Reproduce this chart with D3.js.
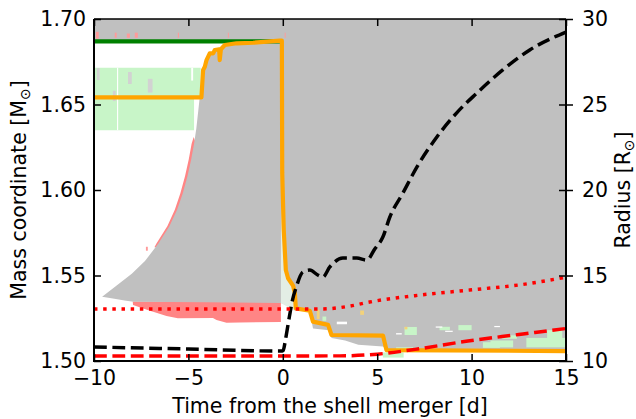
<!DOCTYPE html>
<html>
<head>
<meta charset="utf-8">
<script src="https://cdn.jsdelivr.net/npm/d3@7"></script>
<style>
body { margin: 0; background: #fff; }
svg { font-family: "DejaVu Sans", sans-serif; display: block; }
</style>
</head>
<body>
<div id="chart"></div>
<script>
// sets frame up
const FRAME_WIDTH = 636;
const FRAME_HEIGHT = 419;
const MARGINS = {left: 94, right: 70, top: 19, bottom: 58};
const VIS_WIDTH = FRAME_WIDTH - MARGINS.left - MARGINS.right;
const VIS_HEIGHT = FRAME_HEIGHT - MARGINS.top - MARGINS.bottom;

// tick values
const X_TICKS = [-10, -5, 0, 5, 10, 15];
const MASS_TICKS = [1.50, 1.55, 1.60, 1.65, 1.70];
const RADIUS_TICKS = [10, 15, 20, 25, 30];

// convective zone (grey), [time, mass]
const convUpper = [[-9.57,1.5376],[-8.8,1.5442],[-8.0,1.551],[-7.3,1.5585],[-6.6,1.5685],[-6.0,1.579],
  [-5.6,1.5885],[-5.3,1.598],[-5.05,1.608],[-4.85,1.618],[-4.7,1.627],[-4.58,1.636],[-4.48,1.646],
  [-4.4,1.6542],[-4.22,1.6702],[-4.13,1.6721],[-4.04,1.676],[-3.87,1.6799],
  [-3.69,1.6799],[-3.6,1.6819],[-3.07,1.6848],[-2.45,1.6858],[-1.57,1.6861],[-0.16,1.6873],[-0.05,1.6873],
  [-0.05,1.70],[15,1.70]];
const convLower = [[-9.57,1.5376],[-9.0,1.5366],[-8.3,1.5352],[-7.9,1.5347],[-4,1.5343],[-0.1,1.5339],
  [0.69,1.5305],[1.43,1.529],[1.6,1.519],[2.45,1.518],[2.58,1.5135],[3.3,1.512],[4.0,1.5095],[5.3,1.5085],
  [5.49,1.5068],[15,1.5068]];
// thin convective layer at the top
const convTop = [[-10,1.6866],[0,1.6866],[0,1.70],[-10,1.70]];

// pink regions
const pinkBottom = [[-7.95,1.5348],[-0.1,1.5345],[-0.1,1.5228],[-2.3,1.5225],[-2.98,1.5224],[-3.51,1.524],
  [-3.7,1.5252],[-5.56,1.525],[-6.16,1.5263],[-7.2,1.5300],[-7.93,1.5327]];
const pinkFringe = [[-6.8,1.5665],[-6.7,1.5685],[-6.11,1.579],[-5.72,1.5885],[-5.43,1.598],[-5.18,1.608],
  [-4.98,1.618],[-4.83,1.627],[-4.72,1.631],[-4.6,1.627],[-5.0,1.600],[-6.0,1.575],[-6.6,1.5665]];
// [t0, t1, m0, m1]
const pinkSpecks = [[-9.9,-9.75,1.6885,1.6925],[-8.9,-8.8,1.689,1.692],[-8.26,-8.1,1.689,1.6915],
  [-7.84,-7.68,1.689,1.692],[-5.56,-5.5,1.689,1.692],[-2.91,-2.86,1.689,1.692],[0.1,0.15,1.689,1.692],
  [-7.25,-7.15,1.5645,1.5668]];

// semiconvective zone (light green)
const greenZone = [[-10,1.635],[-4.7,1.635],[-4.7,1.6542],[-4.35,1.6542],[-4.35,1.6715],[-10,1.6715]];
const greenPatches = [[6.45,7.1,1.5152,1.5199],[8.3,8.85,1.518,1.520],[9.3,10.0,1.518,1.521],
  [11.6,12.4,1.513,1.515],[12.9,15,1.508,1.5135],[10.6,11.5,1.5077,1.511],[6.0,6.9,1.5053,1.508],
  [5.3,6.4,1.502,1.505],[14.0,14.8,1.5105,1.518],[11.0,12.2,1.508,1.512],[2.1,2.3,1.5235,1.526]];
const whiteSpecks = [[-8.78,-8.72,1.635,1.6715],[-4.85,-4.75,1.664,1.6715],[2.86,3.4,1.5215,1.523],
  [8.1,8.45,1.5195,1.5202],[8.6,9.0,1.517,1.5177],[11.2,11.5,1.5198,1.5205],[6.0,6.3,1.5155,1.5163]];
const greySpecks = [[-9.85,-9.7,1.6643,1.6713],[-9.0,-8.85,1.652,1.658],[-7.15,-6.9,1.657,1.665],[-8.2,-8.0,1.662,1.669]];
const yellowSpecks = [[1.8,1.95,1.5245,1.530],[4.1,4.3,1.527,1.5295],[6.45,6.6,1.5185,1.520],[14.3,14.6,1.5175,1.5185]];
const paleStrip = [[-0.1,1.5339],[-0.1,1.575],[-0.03,1.60],[0.05,1.5766],[0.16,1.5532],[0.28,1.5484],
  [0.55,1.5439],[0.64,1.5396],[0.69,1.5308],[0.69,1.529]];

// lines, [time, mass]
const heBoundary = [[-10,1.6869],[-0.1,1.6869]];
const coreMass = [[-10,1.6542],[-4.31,1.6542],[-4.22,1.6702],[-4.13,1.6721],[-4.04,1.676],[-3.87,1.6799],
  [-3.69,1.6799],[-3.6,1.6819],[-3.37,1.6823],[-3.34,1.676],[-3.28,1.6823],[-3.07,1.6848],[-2.45,1.6858],
  [-1.57,1.6861],[-0.16,1.6873],[-0.05,1.6873],[-0.03,1.61],[-0.02,1.6058],[0.05,1.5766],[0.16,1.5532],
  [0.28,1.5484],[0.55,1.5439],[0.64,1.5396],[0.69,1.5308],[1.43,1.5294],[1.6,1.523],[2.4,1.5211],
  [2.58,1.5152],[5.31,1.5148],[5.49,1.5064],[15,1.5058]];
// radii, [time, radius]
const stellarRadius = [[-10,10.82],[-5,10.7],[-0.1,10.58],[0.02,10.62],[0.15,11.3],[0.35,12.6],[0.5,13.5],
  [0.72,14.35],[1.06,15.2],[1.43,15.32],[1.85,15.03],[2.12,14.91],[2.49,15.5],[3.18,16.02],[3.92,16.02],
  [4.45,15.9],[4.87,16.55],[5.3,17.25],[5.67,18.42],[6.36,19.82],[7.1,21.34],[8.16,23.1],[9.2,24.5],
  [10.28,25.67],[11.65,27.02],[13.08,28.19],[15,29.24]];
const dottedRadius = [[-10,13.04],[2,13.04],[3.5,13.2],[4.6,13.45],[7.3,13.86],[9.9,14.15],[12.6,14.46],[15,14.9]];
const dashedRadius = [[-10,10.29],[3,10.3],[5,10.4],[7,10.68],[9.8,11.17],[12.5,11.55],[15,11.9]];

// scales
const X_SCALE = d3.scaleLinear().domain([-10, 15]).range([MARGINS.left, MARGINS.left + VIS_WIDTH]);
const Y_MASS = d3.scaleLinear().domain([1.5, 1.7]).range([MARGINS.top + VIS_HEIGHT, MARGINS.top]);
const Y_RAD = d3.scaleLinear().domain([10, 30]).range([MARGINS.top + VIS_HEIGHT, MARGINS.top]);

const FRAME = d3.select("#chart").append("svg")
  .attr("width", FRAME_WIDTH)
  .attr("height", FRAME_HEIGHT);

FRAME.append("defs").append("clipPath").attr("id", "clip")
  .append("rect")
    .attr("x", MARGINS.left).attr("y", MARGINS.top)
    .attr("width", VIS_WIDTH).attr("height", VIS_HEIGHT);

const PLOT = FRAME.append("g").attr("clip-path", "url(#clip)");

const massPoly = d3.line().x(d => X_SCALE(d[0])).y(d => Y_MASS(d[1]));

function polygon(pts, color) {
  PLOT.append("path").attr("d", massPoly(pts) + "Z").attr("fill", color).attr("stroke", "none");
}
function specks(list, color) {
  PLOT.selectAll(null).data(list).enter().append("rect")
    .attr("x", d => X_SCALE(d[0]))
    .attr("y", d => Y_MASS(d[3]))
    .attr("width", d => X_SCALE(d[1]) - X_SCALE(d[0]))
    .attr("height", d => Y_MASS(d[2]) - Y_MASS(d[3]))
    .attr("fill", color);
}

// zones
polygon(greenZone, "#c8f5c8");
specks(whiteSpecks.slice(0, 2), "#ffffff");
specks(greySpecks, "#d2d2d2");
polygon(pinkFringe, "#ff8585");
polygon(pinkBottom, "#ff8585");
polygon(convUpper.concat(convLower.slice().reverse()), "#c0c0c0");
polygon(convTop, "#c0c0c0");
specks(pinkSpecks, "#ff9a9a");
polygon(paleStrip, "#e3eee5");
specks(greenPatches, "#c8f5c8");
specks(whiteSpecks.slice(2), "#ffffff");
specks(yellowSpecks, "#f3d27a");

// mass lines
PLOT.append("path").attr("d", massPoly(heBoundary))
  .attr("fill", "none").attr("stroke", "#008000").attr("stroke-width", 4.2);
PLOT.append("path").attr("d", massPoly(coreMass))
  .attr("fill", "none").attr("stroke", "#ffa500").attr("stroke-width", 4.2)
  .attr("stroke-linejoin", "round");

// radius lines (twin axis)
const radLine = d3.line().x(d => X_SCALE(d[0])).y(d => Y_RAD(d[1])).curve(d3.curveMonotoneX);
PLOT.append("path").attr("d", radLine(stellarRadius))
  .attr("fill", "none").attr("stroke", "#000").attr("stroke-width", 3.47)
  .attr("stroke-dasharray", "12.8,5.6");
PLOT.append("path").attr("d", radLine(dottedRadius))
  .attr("fill", "none").attr("stroke", "#ff0000").attr("stroke-width", 3.47)
  .attr("stroke-dasharray", "3.47,5.7");
PLOT.append("path").attr("d", radLine(dashedRadius))
  .attr("fill", "none").attr("stroke", "#ff0000").attr("stroke-width", 3.47)
  .attr("stroke-dasharray", "12.8,5.6");

// axes
function styleAxis(g) {
  g.attr("font-family", "DejaVu Sans, sans-serif").attr("font-size", 20.5);
  g.select(".domain").remove();
  g.selectAll(".tick line").attr("stroke", "#000").attr("stroke-width", 1.5);
  g.selectAll(".tick text").attr("fill", "#000");
}

FRAME.append("g")
  .attr("transform", "translate(0," + (MARGINS.top + VIS_HEIGHT) + ")")
  .call(d3.axisBottom(X_SCALE).tickValues(X_TICKS).tickSizeInner(-7).tickSizeOuter(0).tickPadding(9))
  .call(styleAxis);

FRAME.append("g")
  .attr("transform", "translate(0," + MARGINS.top + ")")
  .call(d3.axisTop(X_SCALE).tickValues(X_TICKS).tickSizeInner(-7).tickSizeOuter(0).tickFormat(""))
  .call(styleAxis);

FRAME.append("g")
  .attr("transform", "translate(" + MARGINS.left + ",0)")
  .call(d3.axisLeft(Y_MASS).tickValues(MASS_TICKS).tickSizeInner(-7).tickSizeOuter(0)
    .tickPadding(8).tickFormat(d3.format(".2f")))
  .call(styleAxis);

FRAME.append("g")
  .attr("transform", "translate(" + (MARGINS.left + VIS_WIDTH) + ",0)")
  .call(d3.axisRight(Y_RAD).tickValues(RADIUS_TICKS).tickSizeInner(7).tickSizeOuter(0).tickPadding(9))
  .call(styleAxis)
  .selectAll(".tick line").attr("x1", -7);

// spines
const L = MARGINS.left, R = MARGINS.left + VIS_WIDTH, T = MARGINS.top, B = MARGINS.top + VIS_HEIGHT;
FRAME.append("line").attr("x1", L).attr("x2", R).attr("y1", T).attr("y2", T)
  .attr("stroke", "#000").attr("stroke-width", 1.3);
FRAME.append("line").attr("x1", L - 1).attr("x2", R + 1).attr("y1", B).attr("y2", B)
  .attr("stroke", "#000").attr("stroke-width", 2);
FRAME.append("line").attr("x1", L).attr("x2", L).attr("y1", T).attr("y2", B)
  .attr("stroke", "#000").attr("stroke-width", 2);
FRAME.append("line").attr("x1", R).attr("x2", R).attr("y1", T).attr("y2", B)
  .attr("stroke", "#000").attr("stroke-width", 2);

// axis labels
FRAME.append("text")
  .attr("x", (L + R) / 2).attr("y", 413)
  .attr("text-anchor", "middle")
  .attr("font-size", 20.5)
  .text("Time from the shell merger [d]");

const yLab = FRAME.append("text")
  .attr("transform", "translate(26," + ((T + B) / 2) + ") rotate(-90)")
  .attr("text-anchor", "middle")
  .attr("font-size", 20.5);
yLab.append("tspan").text("Mass coordinate [M");
yLab.append("tspan").attr("font-size", 14).attr("dy", 4).text("\u2299");
yLab.append("tspan").attr("dy", -4).text("]");

const rLab = FRAME.append("text")
  .attr("transform", "translate(630," + ((T + B) / 2) + ") rotate(-90)")
  .attr("text-anchor", "middle")
  .attr("font-size", 20.5);
rLab.append("tspan").text("Radius [R");
rLab.append("tspan").attr("font-size", 14).attr("dy", 4).text("\u2299");
rLab.append("tspan").attr("dy", -4).text("]");
</script>
</body>
</html>
